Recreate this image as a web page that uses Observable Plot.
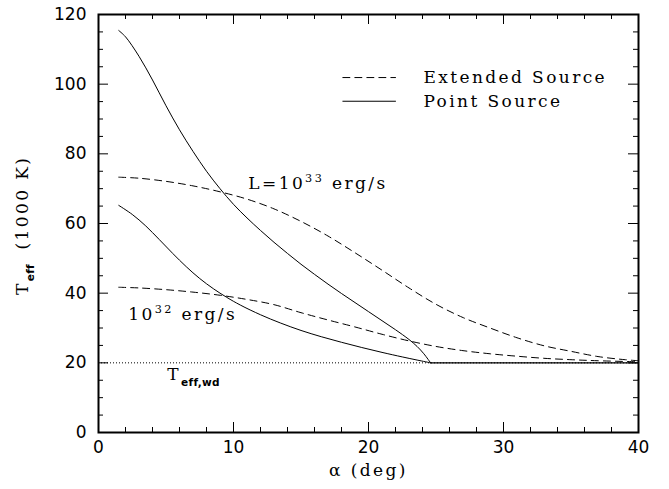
<!DOCTYPE html>
<html><head><meta charset="utf-8">
<script src="https://cdn.jsdelivr.net/npm/d3@7"></script>
<script src="https://cdn.jsdelivr.net/npm/@observablehq/plot@0.6"></script>
<style>body{margin:0;background:#fff} #chart svg{display:block}</style>
</head><body><div id="chart"></div><script>
// alpha (deg), T_eff (1000 K)
const point33 = [[1.5,115.4],[2.0,113.6],[3.0,108.0],[4.0,101.2],[5.0,93.8],[6.0,86.9],[7.0,80.7],[8.0,75.0],[9.0,70.0],[10.0,65.5],[11.0,61.6],[12.0,58.0],[13.0,54.6],[14.0,51.4],[15.0,48.3],[16.0,45.4],[17.0,42.6],[18.0,39.9],[19.0,37.3],[20.0,34.7],[21.0,32.1],[22.0,29.5],[23.0,26.7],[23.6,24.7],[24.1,22.6],[24.6,20.0]];
const extended33 = [[1.5,73.3],[3.0,73.0],[5.0,72.1],[7.0,70.8],[9.0,69.1],[11.0,67.0],[13.0,64.2],[15.0,60.6],[17.0,56.4],[19.0,51.6],[21.0,46.6],[23.0,41.5],[25.0,36.8],[27.0,33.0],[29.0,30.0],[31.0,27.2],[33.0,24.9],[35.0,23.3],[37.0,21.8],[39.0,20.9],[40.0,20.6]];
const point32 = [[1.5,65.2],[2.5,62.6],[3.5,59.3],[4.5,55.4],[5.5,51.4],[6.5,47.6],[7.5,44.2],[8.5,41.3],[9.5,38.8],[10.5,36.6],[12.0,33.8],[13.5,31.4],[15.0,29.3],[16.5,27.5],[18.0,25.9],[19.5,24.4],[21.0,23.0],[22.5,21.7],[23.6,20.8],[24.6,20.0]];
const extended32 = [[1.5,41.7],[3.0,41.5],[5.0,41.0],[7.0,40.3],[9.0,39.4],[11.0,38.2],[13.0,36.7],[15.0,34.4],[17.0,32.3],[19.0,30.3],[21.0,28.2],[23.0,26.3],[25.0,24.7],[27.0,23.5],[29.0,22.6],[31.0,21.9],[33.0,21.3],[35.0,20.9],[37.0,20.6],[40.0,20.3]];
const plateau = [[24.6,20.0],[40.0,20.0]];
const tWd = [20];

const xMajor = [0,10,20,30,40];
const xMinor = [2,4,6,8,12,14,16,18,22,24,26,28,32,34,36,38];
const yMajor = [0,20,40,60,80,100,120];
const yMinor = [5,10,15,25,30,35,45,50,55,65,70,75,85,90,95,105,110,115];

const legendDashed = [[18.1,101.9],[22.0,101.9]];
const legendSolid = [[18.1,95.1],[22.0,95.1]];
const legendText = [{x:24.07,y:101.9,text:"Extended Source"},{x:24.07,y:95.0,text:"Point Source"}];
const annotations = [
  {x:11.1,y:71.6,text:"L=10^{33} erg/s"},
  {x:2.2,y:33.9,text:"10^{32} erg/s"},
  {x:5.1,y:16.7,text:"T_{eff,wd}"}
];
const yLabel = [{x:-5.6,y:43.9,text:"T_{eff}"},{x:-5.6,y:66.0,text:"(1000 K)"}];
const xLabel = ["α (deg)"];

const W = 669, H = 489, mL = 98, mR = 31, mT = 14, mB = 57;
const pw = W - mL - mR, ph = H - mT - mB;
const serif = "DejaVu Serif";
const fsSerif = 17;
const xy = {x: d => d[0], y: d => d[1], strokeWidth: 1};
const dash = "7,5";

const plot = Plot.plot({
  width: W, height: H,
  marginLeft: mL, marginRight: mR, marginTop: mT, marginBottom: mB,
  x: {domain: [0, 40]},
  y: {domain: [0, 120]},
  style: {fontFamily: "DejaVu Sans", fontSize: "17px", background: "white", color: "black"},
  marks: [
    Plot.axisX({ticks: xMajor, tickSize: 0, tickPadding: 8, label: null, fontSize: 17}),
    Plot.axisY({ticks: yMajor, tickSize: 0, tickPadding: 12, label: null, fontSize: 17}),
    // inward ticks on all four sides
    Plot.tickX(xMajor, {x: d => d, insetTop: ph - 10}),
    Plot.tickX(xMinor, {x: d => d, insetTop: ph - 5}),
    Plot.tickX(xMajor, {x: d => d, insetBottom: ph - 10}),
    Plot.tickX(xMinor, {x: d => d, insetBottom: ph - 5}),
    Plot.tickY(yMajor, {y: d => d, insetRight: pw - 10}),
    Plot.tickY(yMinor, {y: d => d, insetRight: pw - 5}),
    Plot.tickY(yMajor, {y: d => d, insetLeft: pw - 10}),
    Plot.tickY(yMinor, {y: d => d, insetLeft: pw - 5}),
    Plot.ruleY(tWd, {strokeWidth: 1, strokeDasharray: "1,2"}),
    Plot.line(extended33, {...xy, curve: "catmull-rom", strokeDasharray: dash}),
    Plot.line(extended32, {...xy, curve: "catmull-rom", strokeDasharray: dash}),
    Plot.line(point33, {...xy, curve: "catmull-rom"}),
    Plot.line(point32, {...xy, curve: "catmull-rom"}),
    Plot.line(plateau, {...xy, strokeWidth: 1.3}),
    Plot.line(legendDashed, {...xy, strokeDasharray: dash}),
    Plot.line(legendSolid, xy),
    Plot.text(legendText, {x: "x", y: "y", text: "text", textAnchor: "start", lineAnchor: "middle", fontFamily: serif, fontSize: fsSerif}),
    Plot.text(annotations, {x: "x", y: "y", text: "text", textAnchor: "start", lineAnchor: "middle", fontFamily: serif, fontSize: fsSerif}),
    Plot.text(yLabel, {x: "x", y: "y", text: "text", rotate: -90, textAnchor: "middle", lineAnchor: "middle", fontFamily: serif, fontSize: fsSerif, clip: false}),
    Plot.text(xLabel, {frameAnchor: "bottom", dy: 38, text: d => d, lineAnchor: "middle", fontFamily: serif, fontSize: fsSerif}),
    Plot.frame({strokeWidth: 2})
  ]
});
document.getElementById("chart").appendChild(plot);

// rich text: _{sub} and ^{sup}
d3.select(plot).selectAll("text").each(function() {
  const t = this.textContent;
  if (!/[_^]\{/.test(t)) return;
  const el = d3.select(this);
  const fs = parseFloat(getComputedStyle(this).fontSize) || 16;
  el.text(null);
  const re = /([_^])\{([^}]*)\}|([^_^]+)/g;
  let m, cur = 0;
  while ((m = re.exec(t))) {
    if (m[3] !== undefined) {
      const ts = el.append("tspan").text(m[3]);
      if (cur !== 0) { ts.attr("dy", -cur); cur = 0; }
    } else {
      const sub = m[1] === "_";
      const target = sub ? fs * 0.35 : -fs * 0.38;
      const ts = el.append("tspan").text(m[2])
        .attr("font-size", fs * (sub ? 0.62 : 0.66))
        .attr("dy", target - cur);
      if (sub) ts.attr("font-family", "DejaVu Sans").attr("font-weight", "bold").attr("letter-spacing", 0.3);
      cur = target;
    }
  }
});
d3.select(plot).selectAll("g[font-family='DejaVu Serif'] text").attr("letter-spacing", 2.4);
</script></body></html>
